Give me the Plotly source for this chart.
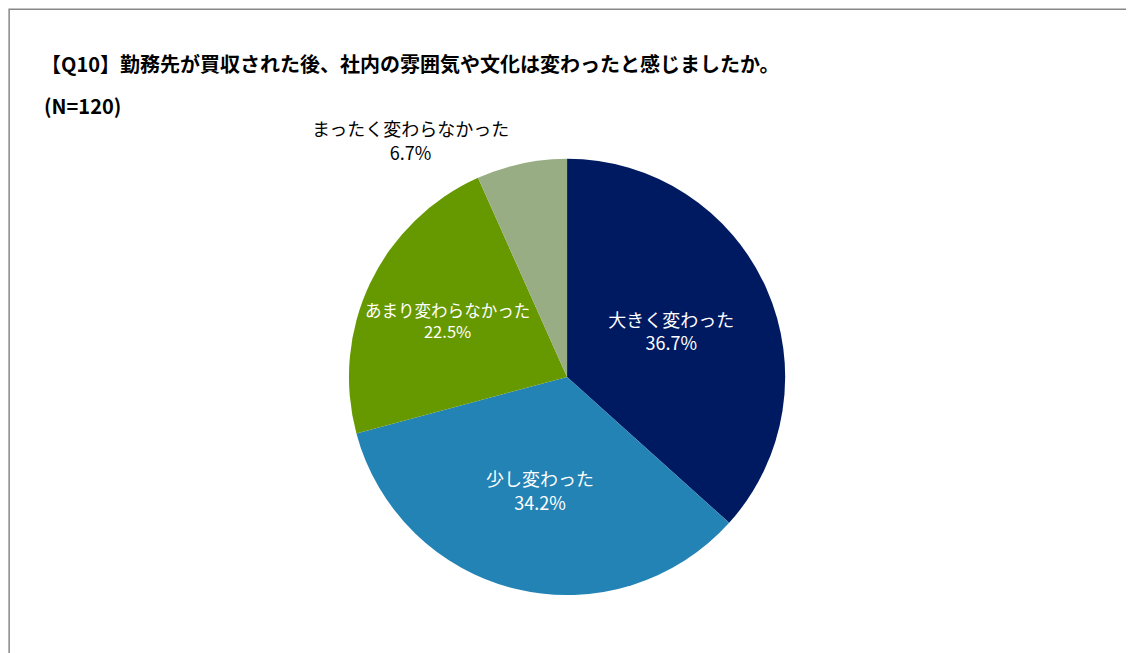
import plotly.graph_objects as go

labels = ["大きく変わった", "少し変わった", "あまり変わらなかった", "まったく変わらなかった"]
values = [36.7, 34.2, 22.5, 6.7]
pct_text = ["36.7%", "34.2%", "22.5%", "6.7%"]
colors = ["#001A62", "#2383B5", "#669900", "#99AD84"]
text_colors = ["white", "white", "white", "black"]
positions = ["inside", "inside", "inside", "outside"]

fig = go.Figure(go.Pie(
    labels=labels, values=values, text=pct_text,
    texttemplate="%{label}<br>%{text}", textinfo="text",
    textposition=positions,
    insidetextorientation="horizontal",
    textfont=dict(size=18, color=text_colors, family="Noto Sans CJK JP"),
    marker=dict(colors=colors, line=dict(color="white", width=0)),
    sort=False, direction="clockwise", rotation=0,
    domain=dict(x=[0.193, 0.793], y=[0.101, 0.769]),
    showlegend=False, hoverinfo="label+text",
))

fig.update_layout(
    width=1134, height=653,
    margin=dict(l=0, r=0, t=0, b=0),
    paper_bgcolor="white",
    font=dict(family="Noto Sans CJK JP"),
    annotations=[
        dict(text="<b>【Q10】勤務先が買収された後、社内の雰囲気や文化は変わったと感じましたか。</b>",
             xref="paper", yref="paper", x=0.027, y=0.915, xanchor="left", yanchor="middle",
             showarrow=False, font=dict(size=20, color="black")),
        dict(text="<b>(N=120)</b>",
             xref="paper", yref="paper", x=0.03, y=0.85, xanchor="left", yanchor="middle",
             showarrow=False, font=dict(size=20, color="black")),
    ],
    shapes=[dict(type="rect", xref="paper", yref="paper", x0=0.001, y0=0.002, x1=0.999, y1=0.998,
                 line=dict(color="#888888", width=1.5))],
)
fig.write_html("out.html")
